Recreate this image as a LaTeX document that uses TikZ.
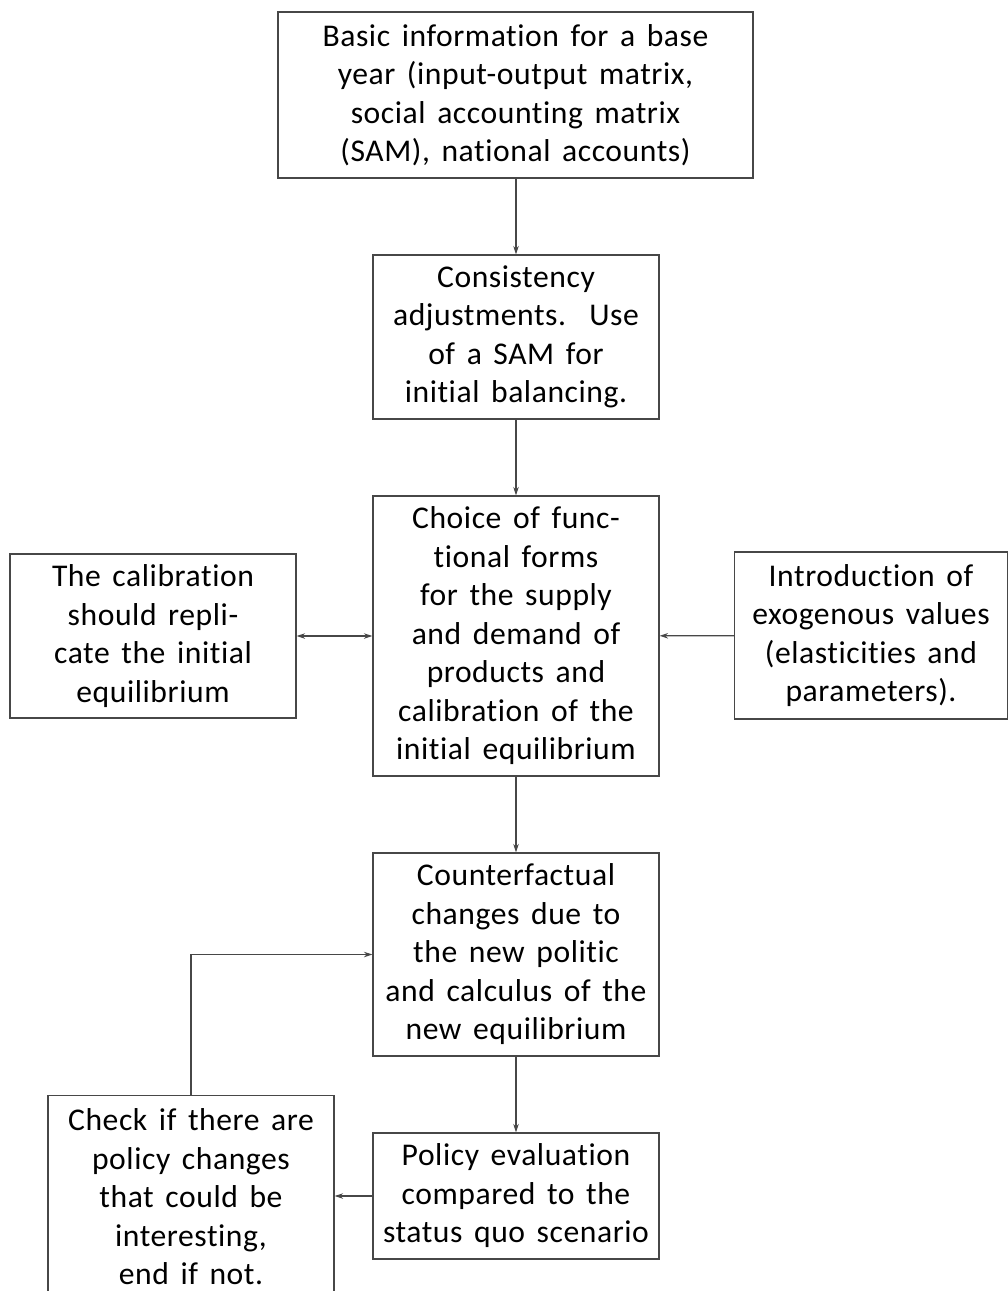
\documentclass[tikz,border=0pt]{standalone}
\usepackage{fontspec}
\newfontfamily\boxfont[Ligatures=CommonOff,LetterSpace=1.8,WordSpace=1.5]{Carlito}
\usetikzlibrary{arrows.meta}
\begin{document}
\begin{tikzpicture}[
  box/.style={draw=black!72, line width=0.7pt, align=center, inner sep=0pt,
    font=\boxfont\fontsize{18}{21.9}\selectfont},
  arr/.style={draw=black!72, line width=0.7pt, -{Stealth[length=0.17cm,width=0.11cm]}},
  darr/.style={draw=black!72, line width=0.7pt, {Stealth[length=0.17cm,width=0.11cm]}-{Stealth[length=0.17cm,width=0.11cm]}}
]
\path[use as bounding box] (0,0) rectangle (20.16,-25.82);
\node[box, minimum width=9.5cm, minimum height=3.32cm] (b1) at (10.31,-1.90)
  {Basic information for a base\\ year (input-output matrix,\\ social accounting matrix\\ (SAM), national accounts)};
\node[box, minimum width=5.72cm, minimum height=3.28cm] (b2) at (10.32,-6.74)
  {Consistency\\ adjustments.\ \ Use\\ of a SAM for\\ initial balancing.};
\node[box, minimum width=5.72cm, minimum height=5.6cm] (b3) at (10.32,-12.72)
  {Choice of func-\\ tional forms\\ for the supply\\ and demand of\\ products and\\ calibration of the\\ initial equilibrium};
\node[box, minimum width=5.72cm, minimum height=3.28cm] (lft) at (3.06,-12.72)
  {The calibration\\ should repli-\\ cate the initial\\ equilibrium};
\node[box, minimum width=5.46cm, minimum height=3.34cm] (rgt) at (17.42,-12.71)
  {Introduction of\\ exogenous values\\ (elasticities and\\ parameters).};
\node[box, minimum width=5.72cm, minimum height=4.06cm] (b4) at (10.32,-19.09)
  {Counterfactual\\ changes due to\\ the new politic\\ and calculus of the\\ new equilibrium};
\node[box, minimum width=5.72cm, minimum height=2.52cm] (b5) at (10.32,-23.92)
  {Policy evaluation\\ compared to the\\ status quo scenario};
\node[box, minimum width=5.72cm, minimum height=4.06cm] (bl) at (3.82,-23.94)
  {Check if there are\\ policy changes\\ that could be\\ interesting,\\ end if not.};
\draw[arr] (b1.south -| b2.north) -- (b2.north);
\draw[arr] (b2) -- (b3);
\draw[darr] (lft) -- (b3);
\draw[arr] (rgt) -- (b3);
\draw[arr] (b3) -- (b4);
\draw[arr] (b4) -- (b5);
\draw[arr] (b5.west) -- (b5.west -| bl.east);
\draw[arr] (bl.north) |- (b4.west);
\end{tikzpicture}
\end{document}
